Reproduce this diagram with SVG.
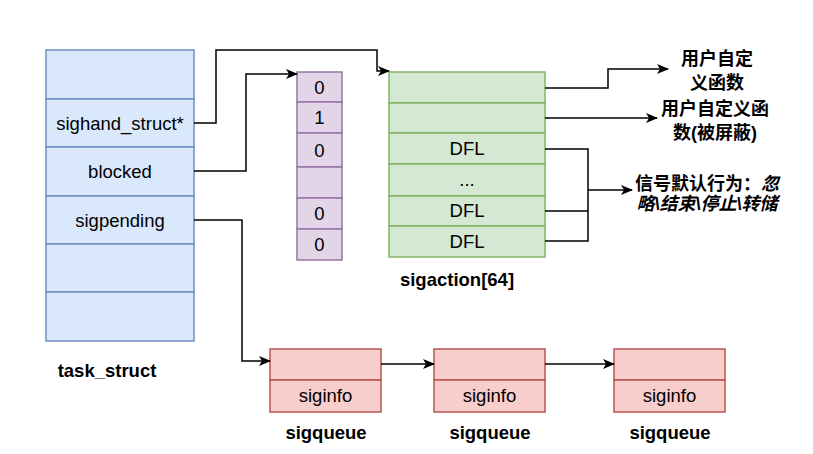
<svg xmlns="http://www.w3.org/2000/svg" width="813" height="454" viewBox="0 0 813 454">
<defs>
<style>
.t{font-family:"Liberation Sans",Arial,sans-serif;font-size:18.5px;fill:#000;text-anchor:middle}
.b{font-weight:bold}
.cjk{font-family:"Liberation Sans","Noto Sans CJK SC",sans-serif;font-size:18px;font-weight:bold;text-anchor:middle}
.blue{fill:#dae8fc;stroke:#6c8ebf;stroke-width:1.5}
.pur{fill:#e1d5e7;stroke:#9673a6;stroke-width:1.5}
.grn{fill:#d5e8d4;stroke:#82b366;stroke-width:1.5}
.red{fill:#f8cecc;stroke:#b85450;stroke-width:1.5}
.ln{fill:none;stroke:#000;stroke-width:1.5}
</style>
<marker id="arr" viewBox="0 0 12 10" refX="11" refY="5" markerWidth="12" markerHeight="10" markerUnits="userSpaceOnUse" orient="auto">
<path d="M0,0 L12,5 L0,10 L3,5 Z" fill="#000"/>
</marker>
</defs>

<g id="task_struct">
<rect class="blue" x="46" y="50" width="148" height="49"/>
<rect class="blue" x="46" y="99" width="148" height="48"/>
<rect class="blue" x="46" y="147" width="148" height="49"/>
<rect class="blue" x="46" y="196" width="148" height="48"/>
<rect class="blue" x="46" y="244" width="148" height="48"/>
<rect class="blue" x="46" y="292" width="148" height="49"/>
<text class="t" x="120" y="129.5">sighand_struct*</text>
<text class="t" x="120" y="178">blocked</text>
<text class="t" x="120" y="226.5">sigpending</text>
<text class="t b" x="107" y="377">task_struct</text>
</g>

<g id="blocked_bits">
<rect class="pur" x="297" y="72" width="45" height="30"/>
<rect class="pur" x="297" y="102" width="45" height="31"/>
<rect class="pur" x="297" y="133" width="45" height="34"/>
<rect class="pur" x="297" y="167" width="45" height="31"/>
<rect class="pur" x="297" y="198" width="45" height="31"/>
<rect class="pur" x="297" y="229" width="45" height="31"/>
<text class="t" x="319.5" y="93.5">0</text>
<text class="t" x="319.5" y="124">1</text>
<text class="t" x="319.5" y="156.5">0</text>
<text class="t" x="319.5" y="220">0</text>
<text class="t" x="319.5" y="251">0</text>
</g>

<g id="sigaction">
<rect class="grn" x="389" y="72" width="156" height="31"/>
<rect class="grn" x="389" y="103" width="156" height="30"/>
<rect class="grn" x="389" y="133" width="156" height="31"/>
<rect class="grn" x="389" y="164" width="156" height="32"/>
<rect class="grn" x="389" y="196" width="156" height="30"/>
<rect class="grn" x="389" y="226" width="156" height="31"/>
<text class="t" x="467" y="155">DFL</text>
<text class="t" x="467" y="186">...</text>
<text class="t" x="467" y="217">DFL</text>
<text class="t" x="467" y="247.5">DFL</text>
<text class="t b" x="457" y="286">sigaction[64]</text>
</g>

<g id="sigqueue1">
<rect class="red" x="270" y="349" width="111" height="31"/>
<rect class="red" x="270" y="380" width="111" height="32"/>
<text class="t" x="325.5" y="402">siginfo</text>
<text class="t b" x="326" y="439">sigqueue</text>
</g>
<g id="sigqueue2">
<rect class="red" x="434" y="349" width="111" height="31"/>
<rect class="red" x="434" y="380" width="111" height="32"/>
<text class="t" x="489.5" y="402">siginfo</text>
<text class="t b" x="490" y="439">sigqueue</text>
</g>
<g id="sigqueue3">
<rect class="red" x="614" y="349" width="111" height="31"/>
<rect class="red" x="614" y="380" width="111" height="32"/>
<text class="t" x="669.5" y="402">siginfo</text>
<text class="t b" x="670" y="439">sigqueue</text>
</g>

<g id="label_user1">
<text class="cjk" x="717" y="64.5">用户自定</text>
<text class="cjk" x="717" y="88.5">义函数</text>
</g>
<g id="label_user2">
<text class="cjk" x="715" y="114.5">用户自定义函</text>
<text class="cjk" x="715" y="138.5">数(被屏蔽)</text>
</g>
<g id="label_default">
<text class="cjk" x="707" y="189.5">信号默认行为：<tspan font-style="italic">忽</tspan></text>
<text class="cjk" x="707" y="209.5" font-style="italic">略\结束\停止\转储</text>
</g>

<g id="connectors">
<path class="ln" d="M194,123 H216 V50 H377 V71 H389" marker-end="url(#arr)"/>
<path class="ln" d="M194,171 H246 V74 H297" marker-end="url(#arr)"/>
<path class="ln" d="M194,220 H242 V361 H270" marker-end="url(#arr)"/>
<path class="ln" d="M381,364 H434" marker-end="url(#arr)"/>
<path class="ln" d="M545,364 H614" marker-end="url(#arr)"/>
<path class="ln" d="M545,88 H608 V69 H668" marker-end="url(#arr)"/>
<path class="ln" d="M545,118 H657" marker-end="url(#arr)"/>
<path class="ln" d="M545,149 H588 V241 H545 M545,211 H588"/>
<path class="ln" d="M588,190 H632" marker-end="url(#arr)"/>
</g>
</svg>
